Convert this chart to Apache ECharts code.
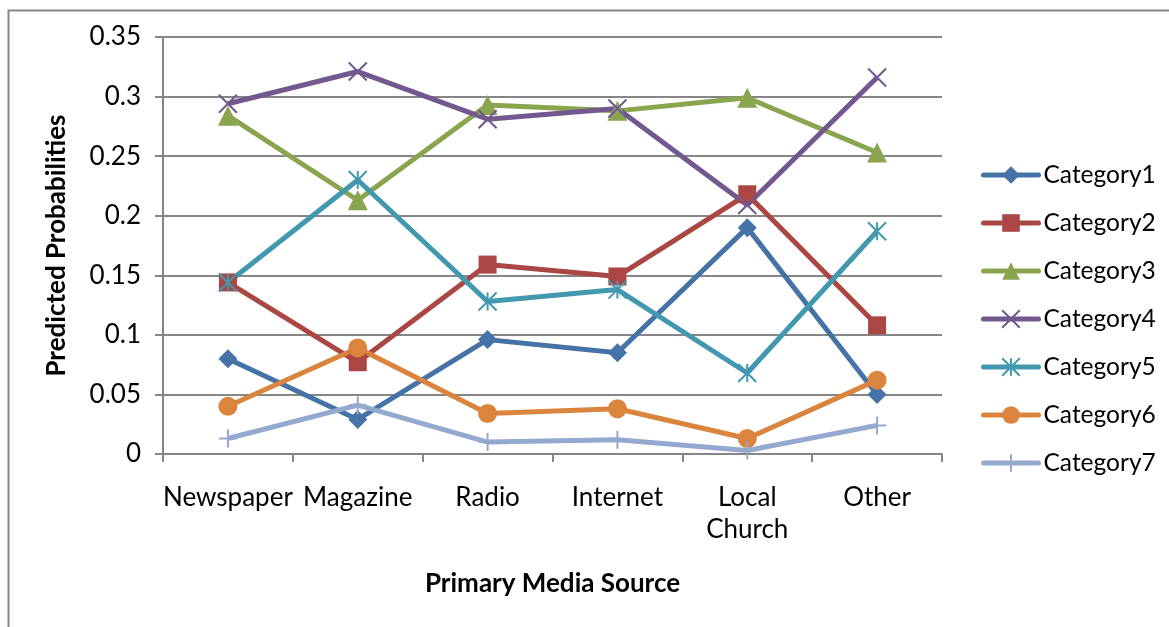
<!DOCTYPE html>
<html>
<head>
<meta charset="utf-8">
<script src="https://cdn.jsdelivr.net/npm/echarts@6/dist/echarts.min.js"></script>
<style>
  html, body { margin: 0; padding: 0; background: #fff; }
  #chart { width: 1169px; height: 627px; }
</style>
</head>
<body>
<div id="chart"></div>
<script>
// media sources on the x axis
const categories = ['Newspaper', 'Magazine', 'Radio', 'Internet', 'Local Church', 'Other'];
const yTicks = [0, 0.05, 0.1, 0.15, 0.2, 0.25, 0.3, 0.35];

// predicted probabilities
const category1 = [0.080, 0.029, 0.096, 0.085, 0.190, 0.050];
const category2 = [0.144, 0.077, 0.159, 0.149, 0.218, 0.108];
const category3 = [0.284, 0.213, 0.293, 0.288, 0.299, 0.253];
const category4 = [0.294, 0.321, 0.281, 0.290, 0.209, 0.316];
const category5 = [0.144, 0.230, 0.128, 0.138, 0.068, 0.187];
const category6 = [0.040, 0.089, 0.034, 0.038, 0.013, 0.062];
const category7 = [0.013, 0.041, 0.010, 0.012, 0.003, 0.024];

const seriesNames = ['Category1', 'Category2', 'Category3', 'Category4', 'Category5', 'Category6', 'Category7'];
const seriesData = [category1, category2, category3, category4, category5, category6, category7];

const font = 'Lato';
const gridGray = '#868686';

// excel-ish marker shapes
const markers = [
    { symbol: 'diamond', size: 19, stroke: false },
    { symbol: 'rect', size: 18, stroke: false },
    { symbol: 'triangle', size: 20, stroke: false },
    { symbol: 'path://M0,0L10,10M10,0L0,10', size: 18, stroke: true },              // x
    { symbol: 'path://M0,0L10,10M10,0L0,10M5,0L5,10', size: 18, stroke: true },     // asterisk
    { symbol: 'circle', size: 19, stroke: false },
    { symbol: 'path://M5,0L5,10M0,5L10,5', size: 18, stroke: true }                 // plus
];
const colors = ['#4572A7', '#AA4643', '#89A54E', '#71588F', '#4198AF', '#DB843D', '#93A9CF'];

let myChart = echarts.init(document.getElementById('chart'));

let series = seriesNames.map(function (name, i) {
    let m = markers[i];
    return {
        name: name,
        type: 'line',
        data: seriesData[i],
        symbol: m.symbol,
        symbolSize: m.size,
        showAllSymbol: true,
        lineStyle: { color: colors[i], width: 5 },
        itemStyle: {
            color: colors[i],
            borderColor: colors[i],
            borderWidth: m.stroke ? 2 : 0
        },
        emphasis: { disabled: true },
        animation: false
    };
});

let option = {
    animation: false,
    color: colors,
    textStyle: { fontFamily: font },
    graphic: [{
        type: 'rect',
        left: 6,
        top: 8,
        z: -10,
        shape: { width: 1300, height: 800 },
        style: { fill: 'none', stroke: gridGray, lineWidth: 2 }
    }],
    grid: { left: 163, right: 227, top: 37, bottom: 173 },
    legend: {
        orient: 'vertical',
        left: 981,
        top: 162,
        padding: 0,
        itemWidth: 55,
        itemHeight: 22,
        itemGap: 22,
        lineStyle: { width: 5, cap: 'round' },
        data: seriesNames,
        textStyle: { fontFamily: font, fontSize: 24.5, color: '#000', lineHeight: 26 }
    },
    xAxis: {
        type: 'category',
        data: categories,
        boundaryGap: true,
        name: 'Primary Media Source',
        nameLocation: 'middle',
        nameGap: 117,
        nameTextStyle: { fontFamily: font, fontSize: 26, fontWeight: 'bold', color: '#000', lineHeight: 26 },
        axisLine: { lineStyle: { color: gridGray, width: 2 } },
        axisTick: { show: true, length: 8, lineStyle: { color: gridGray, width: 2 } },
        axisLabel: {
            fontFamily: font, fontSize: 26, color: '#000', lineHeight: 32, margin: 28,
            interval: 0,
            formatter: function (v) { return v.replace(' ', '\n'); }
        }
    },
    yAxis: {
        type: 'value',
        min: yTicks[0],
        max: yTicks[yTicks.length - 1],
        interval: 0.05,
        name: 'Predicted Probabilities',
        nameLocation: 'middle',
        nameGap: 93,
        nameTextStyle: { fontFamily: font, fontSize: 26, fontWeight: 'bold', color: '#000' },
        axisLine: { show: true, lineStyle: { color: gridGray, width: 2 } },
        axisTick: { show: true, length: 8, lineStyle: { color: gridGray, width: 2 } },
        axisLabel: { fontFamily: font, fontSize: 26, color: '#000', margin: 22 },
        splitLine: { lineStyle: { color: gridGray, width: 2 } }
    },
    series: series
};

myChart.setOption(option);
</script>
</body>
</html>
